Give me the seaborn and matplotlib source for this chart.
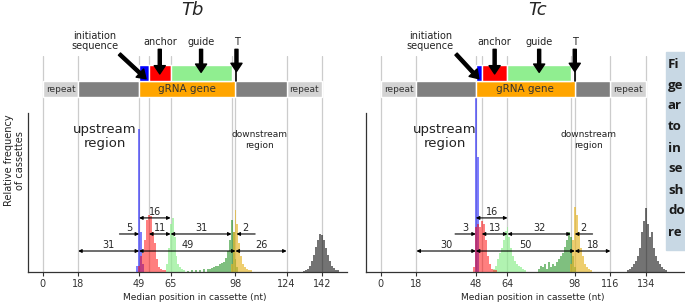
import matplotlib.pyplot as plt
import matplotlib.patches as mpatches
import seaborn as sns

sns.set_theme(style="ticks")
plt.rcParams["font.family"] = ["DejaVu Sans"]

# ---------------- Tb panel data ----------------
tb_ticks = [0, 18, 49, 65, 98, 124, 142]
tb_grid = [0, 18, 49, 54, 65, 96, 98, 124, 142]
tb_repeat = [(0, 18), (124, 142)]
tb_spacer = [(18, 49), (98, 124)]
tb_gene = (49, 98)
tb_init = (49, 54)
tb_anchor = (54, 65)
tb_guide = (65, 96)
tb_t = 98.5
tb_dims = [(0, 49, 65, "16"), (1, 54, 65, "11"), (1, 65, 96, "31"),
           (2, 18, 49, "31"), (2, 49, 98, "49"), (2, 98, 124, "26")]
tb_pointers = [(1, 39, 49, "5"), (1, 108, 98.5, "2")]

tb_init_x = [48, 49, 50, 51]
tb_init_y = [0.04, 0.90, 0.25, 0.05]
tb_anchor_x = [49, 50, 51, 52, 53, 54, 55, 56, 57, 58, 59, 60, 61, 62]
tb_anchor_y = [0.04, 0.10, 0.12, 0.20, 0.33, 0.36, 0.35, 0.25, 0.18, 0.08, 0.03, 0.02, 0.015, 0.01]
tb_gstart_x = [63, 64, 65, 66, 67, 68, 69, 70, 71, 72]
tb_gstart_y = [0.05, 0.15, 0.30, 0.34, 0.22, 0.10, 0.05, 0.03, 0.02, 0.01]
tb_gend_x = [74, 76, 78, 80, 82, 84, 85, 86, 87, 88, 89, 90, 91, 92, 93, 94, 95, 96, 97, 98, 99]
tb_gend_y = [0.005, 0.01, 0.012, 0.015, 0.018, 0.02, 0.02, 0.025, 0.03, 0.035, 0.04, 0.05, 0.055,
             0.065, 0.09, 0.13, 0.20, 0.33, 0.25, 0.08, 0.03]
tb_t_x = [96, 97, 98, 99, 100, 101, 102, 103, 104, 105, 106]
tb_t_y = [0.05, 0.25, 0.39, 0.30, 0.18, 0.10, 0.05, 0.03, 0.02, 0.015, 0.01]
tb_rep_x = [133, 134, 135, 136, 137, 138, 139, 140, 141, 142, 143, 144, 145, 146, 147, 148, 149, 150]
tb_rep_y = [0.005, 0.01, 0.02, 0.04, 0.07, 0.11, 0.16, 0.20, 0.24, 0.23, 0.20, 0.15, 0.11, 0.07,
            0.04, 0.025, 0.015, 0.01]

# ---------------- Tc panel data ----------------
tc_ticks = [0, 18, 48, 64, 98, 116, 134]
tc_grid = [0, 18, 48, 51, 64, 96, 98, 116, 134]
tc_repeat = [(0, 18), (116, 134)]
tc_spacer = [(18, 48), (98, 116)]
tc_gene = (48, 98)
tc_init = (48, 51)
tc_anchor = (51, 64)
tc_guide = (64, 96)
tc_t = 98
tc_dims = [(0, 48, 64, "16"), (1, 51, 64, "13"), (1, 64, 96, "32"),
           (2, 18, 48, "30"), (2, 48, 98, "50"), (2, 98, 116, "18")]
tc_pointers = [(1, 37.5, 48, "3"), (1, 107, 98, "2")]

tc_init_x = [48, 49]
tc_init_y = [1.10, 0.72]
tc_anchor_x = [47, 48, 49, 50, 51, 52, 53, 54, 55, 56, 57, 58]
tc_anchor_y = [0.03, 0.28, 0.30, 0.28, 0.32, 0.30, 0.20, 0.10, 0.05, 0.02, 0.01, 0.01]
tc_gstart_x = [57, 58, 59, 60, 61, 62, 63, 64, 65, 66, 67, 68, 69, 70, 71, 72, 73]
tc_gstart_y = [0.02, 0.04, 0.08, 0.12, 0.15, 0.20, 0.26, 0.28, 0.22, 0.15, 0.10, 0.07, 0.05,
               0.04, 0.03, 0.02, 0.01]
tc_gend_x = [80, 81, 82, 83, 84, 85, 86, 87, 88, 89, 90, 91, 92, 93, 94, 95, 96, 97, 98]
tc_gend_y = [0.02, 0.04, 0.03, 0.05, 0.02, 0.06, 0.03, 0.05, 0.04, 0.06, 0.08, 0.10, 0.12,
             0.16, 0.20, 0.25, 0.22, 0.10, 0.03]
tc_t_x = [96, 97, 98, 99, 100, 101, 102, 103, 104, 105, 106]
tc_t_y = [0.05, 0.20, 0.41, 0.36, 0.25, 0.15, 0.10, 0.05, 0.03, 0.02, 0.01]
tc_rep_x = [125, 126, 127, 128, 129, 130, 131, 132, 133, 134, 135, 136, 137, 138, 139, 140,
            141, 142, 143, 144]
tc_rep_y = [0.01, 0.02, 0.03, 0.05, 0.07, 0.10, 0.15, 0.25, 0.32, 0.40, 0.30, 0.22, 0.25,
            0.15, 0.10, 0.07, 0.05, 0.03, 0.02, 0.01]

side_lines = ["Fi", "ge", "ar", "to", "in", "se", "sh", "do", "re"]

ROW_Y = [0.34, 0.239, 0.132]
GRID_C = "#cccccc"


def draw_panel(ax, name, ticks, grid, repeat, spacer, gene, init, anchor, guide, t_pos,
               dims, pointers, hists, title_x, up_x, down_x, init_lbl_x, xmax):
    for g in grid:
        ax.axvline(g, color=GRID_C, lw=0.9, zorder=0)

    # histograms
    for xs, ys, col, a in hists:
        sns.histplot(x=xs, weights=ys, discrete=True, color=col, alpha=a,
                     linewidth=0, ax=ax, zorder=2)

    # cassette diagram
    for s, e in repeat:
        ax.barh(1.15, e - s, left=s, height=0.1, color="#d3d3d3", zorder=3)
        ax.text((s + e) / 2, 1.15, "repeat", ha="center", va="center", fontsize=6.5,
                color="#333333", zorder=4)
    for s, e in spacer:
        ax.barh(1.15, e - s, left=s, height=0.1, color="#808080", zorder=3)
    ax.barh(1.15, gene[1] - gene[0], left=gene[0], height=0.1, color="#ffa500", zorder=3)
    ax.text((gene[0] + gene[1]) / 2, 1.15, "gRNA gene", ha="center", va="center",
            fontsize=7.5, color="#333333", zorder=4)
    for (s, e), col in [(init, "#0000ff"), (anchor, "#ff0000"), (guide, "#90ee90")]:
        ax.barh(1.25, e - s, left=s, height=0.1, color=col, zorder=3)
    ax.plot([t_pos, t_pos], [1.20, 1.30], color="black", lw=1.2, zorder=4)

    big = dict(facecolor="black", edgecolor="black", width=2.2, headwidth=8,
               headlength=6, shrink=0)
    ax.annotate("", xy=((anchor[0] + anchor[1]) / 2, 1.245),
                xytext=((anchor[0] + anchor[1]) / 2, 1.40), arrowprops=big,
                annotation_clip=False, zorder=5)
    ax.annotate("", xy=((guide[0] + guide[1]) / 2, 1.255),
                xytext=((guide[0] + guide[1]) / 2, 1.40), arrowprops=big,
                annotation_clip=False, zorder=5)
    ax.annotate("", xy=(t_pos, 1.26), xytext=(t_pos, 1.40), arrowprops=big,
                annotation_clip=False, zorder=5)
    ax.annotate("", xy=(init[1] - 1.5, 1.215), xytext=(init[0] - 10, 1.37), arrowprops=big,
                annotation_clip=False, zorder=5)
    lbl = dict(ha="center", va="center", fontsize=7, color="#222222")
    ax.text((anchor[0] + anchor[1]) / 2, 1.446, "anchor", **lbl)
    ax.text((guide[0] + guide[1]) / 2, 1.446, "guide", **lbl)
    ax.text(t_pos, 1.446, "T", **lbl)
    ax.text(init_lbl_x, 1.45, "initiation\nsequence", linespacing=1.0, **lbl)
    ax.text(title_x, 1.648, name, ha="center", va="center", fontsize=13, style="italic")

    # dimension arrows
    for row, s, e, txt in dims:
        y = ROW_Y[row]
        ax.annotate("", xy=(e, y), xytext=(s, y),
                    arrowprops=dict(arrowstyle="<|-|>", color="black", lw=0.8,
                                    mutation_scale=5, shrinkA=0, shrinkB=0), zorder=6)
        ax.text((s + e) / 2, y + 0.008, txt, ha="center", va="bottom", fontsize=7, zorder=6)
    for row, s, e, txt in pointers:
        y = ROW_Y[row]
        ax.annotate("", xy=(e, y), xytext=(s, y),
                    arrowprops=dict(arrowstyle="-|>", color="black", lw=0.8,
                                    mutation_scale=5, shrinkA=0, shrinkB=0), zorder=6)
        ax.text((s + e) / 2, y + 0.008, txt, ha="center", va="bottom", fontsize=7, zorder=6)

    ax.text(up_x, 0.85, "upstream\nregion", ha="center", va="center", fontsize=9.5,
            linespacing=1.1, color="#222222")
    ax.text(down_x, 0.83, "downstream\nregion", ha="center", va="center", fontsize=6.5,
            linespacing=1.2, color="#222222")

    ax.set_xlim(-7.5, xmax)
    ax.set_ylim(0, 1.358)
    ax.set_xticks(ticks)
    ax.set_xticklabels([str(t) for t in ticks])
    ax.set_yticks([])
    ax.set_ylabel("")
    ax.set_xlabel("Median position in cassette (nt)", fontsize=6.5, color="#222222")
    ax.xaxis.set_label_coords(0.523, -0.095)
    ax.tick_params(axis="x", labelsize=7, length=3, width=0.8, pad=2, colors="#333333")
    for sp in ("top", "right"):
        ax.spines[sp].set_visible(False)
    ax.spines["left"].set_bounds(0, 1)
    for sp in ("left", "bottom"):
        ax.spines[sp].set_color("#333333")
        ax.spines[sp].set_linewidth(0.9)
    ax.patch.set_alpha(0)


fig = plt.figure(figsize=(6.85, 3.04), dpi=100)
bottom = 32 / 304
height = (272 - 56) / 304
ax1 = fig.add_axes([28 / 685, bottom, 319 / 685, height])
ax2 = fig.add_axes([366 / 685, bottom, 319 / 685, height])

draw_panel(ax1, "Tb", tb_ticks, tb_grid, tb_repeat, tb_spacer, tb_gene, tb_init, tb_anchor,
           tb_guide, tb_t, tb_dims, tb_pointers,
           [(tb_rep_x, tb_rep_y, "black", 0.55),
            (tb_gstart_x, tb_gstart_y, "#90ee90", 0.7),
            (tb_gend_x, tb_gend_y, "green", 0.5),
            (tb_t_x, tb_t_y, "#e6b422", 0.65),
            (tb_init_x, tb_init_y, "blue", 0.5),
            (tb_anchor_x, tb_anchor_y, "red", 0.5)],
           title_x=76, up_x=31.5, down_x=110, init_lbl_x=26.5, xmax=154.7)
draw_panel(ax2, "Tc", tc_ticks, tc_grid, tc_repeat, tc_spacer, tc_gene, tc_init, tc_anchor,
           tc_guide, tc_t, tc_dims, tc_pointers,
           [(tc_rep_x, tc_rep_y, "black", 0.55),
            (tc_gstart_x, tc_gstart_y, "#90ee90", 0.7),
            (tc_gend_x, tc_gend_y, "green", 0.5),
            (tc_t_x, tc_t_y, "#e6b422", 0.65),
            (tc_init_x, tc_init_y, "blue", 0.5),
            (tc_anchor_x, tc_anchor_y, "red", 0.5)],
           title_x=79, up_x=32.5, down_x=104.7, init_lbl_x=25, xmax=153.7)

ax1.text(-14.2, 0.70, "Relative frequency\nof cassettes", rotation=90, ha="center",
         va="center", fontsize=7, linespacing=1.1, color="#222222", clip_on=False)

# cut-off caption box on the right
fig.add_artist(mpatches.Rectangle((666 / 685, 54 / 304), 30 / 685, 198 / 304,
                                  transform=fig.transFigure, color="#c8d8e4", zorder=10))
for i, s in enumerate(side_lines):
    fig.text(668 / 685, 1 - (64 + i * 21) / 304, s, fontsize=9.5, fontweight="bold",
             color="#1a1a1a", va="center", ha="left", family=["Open Sans", "DejaVu Sans"],
             zorder=11)

fig.savefig("out.png", dpi=100)
